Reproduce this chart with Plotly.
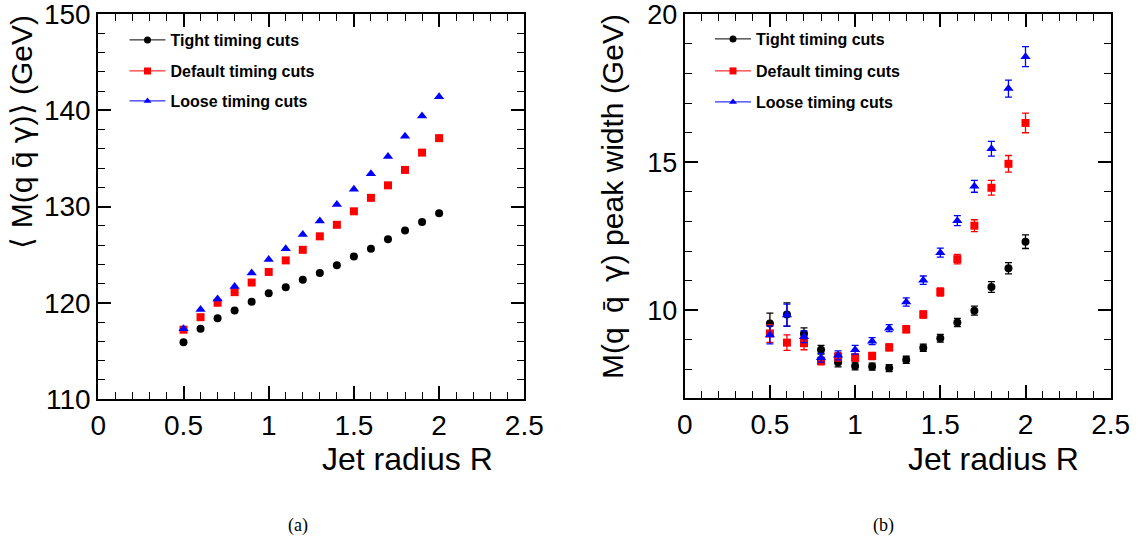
import plotly.graph_objects as go

# ---------------- data ----------------
jet_radius = [0.5, 0.6, 0.7, 0.8, 0.9, 1.0, 1.1, 1.2, 1.3, 1.4, 1.5, 1.6, 1.7, 1.8, 1.9, 2.0]

series_names = ["Tight timing cuts", "Default timing cuts", "Loose timing cuts"]

mean_tight = [115.9, 117.3, 118.4, 119.2, 120.1, 121.0, 121.6, 122.4, 123.1, 123.9, 124.8, 125.6, 126.6, 127.5, 128.4, 129.3]
mean_default = [117.2, 118.5, 120.0, 121.1, 122.1, 123.2, 124.4, 125.5, 126.9, 128.1, 129.5, 130.9, 132.2, 133.8, 135.6, 137.1]
mean_loose = [117.3, 119.3, 120.4, 121.7, 123.1, 124.5, 125.6, 127.1, 128.5, 130.2, 131.8, 133.4, 135.2, 137.3, 139.4, 141.4]

width_tight = [9.56, 9.86, 9.21, 8.67, 8.24, 8.12, 8.10, 8.05, 8.33, 8.74, 9.06, 9.59, 9.99, 10.79, 11.42, 12.32]
width_tight_err = [0.35, 0.39, 0.20, 0.15, 0.15, 0.13, 0.12, 0.12, 0.12, 0.12, 0.13, 0.14, 0.15, 0.18, 0.19, 0.23]
width_default = [9.22, 8.91, 8.89, 8.29, 8.43, 8.41, 8.46, 8.75, 9.36, 9.86, 10.62, 11.73, 12.86, 14.14, 14.95, 16.33]
width_default_err = [0.30, 0.26, 0.22, 0.13, 0.14, 0.12, 0.12, 0.12, 0.12, 0.12, 0.14, 0.16, 0.20, 0.25, 0.28, 0.33]
width_loose = [9.17, 9.84, 9.11, 8.40, 8.48, 8.67, 8.96, 9.40, 10.28, 11.02, 11.95, 13.03, 14.19, 15.46, 17.49, 18.57]
width_loose_err = [0.30, 0.37, 0.20, 0.15, 0.15, 0.15, 0.12, 0.12, 0.14, 0.14, 0.15, 0.17, 0.20, 0.25, 0.29, 0.34]

x_ticks = [0, 0.5, 1, 1.5, 2, 2.5]
x_tick_text = ["0", "0.5", "1", "1.5", "2", "2.5"]
left_y_ticks = [110, 120, 130, 140, 150]
right_y_ticks = [10, 15, 20]

# ---------------- style ----------------
colors = ["#000000", "#ff0000", "#0000ff"]
symbols = ["circle", "square", "triangle-up"]
msizes = [8, 8, 9]
FONT = "Liberation Sans, Arial, Helvetica, sans-serif"
GAMMA = "<span style='font-family:DejaVu Sans'>\u03b3</span>"

W, H = 1138, 541
fig = go.Figure()

mean_series = [mean_tight, mean_default, mean_loose]
width_series = [width_tight, width_default, width_loose]
width_errs = [width_tight_err, width_default_err, width_loose_err]

# left panel data
for i in range(3):
    fig.add_trace(go.Scatter(
        x=jet_radius, y=mean_series[i], mode="markers", xaxis="x", yaxis="y",
        marker=dict(symbol=symbols[i], size=msizes[i], color=colors[i]),
        showlegend=False, cliponaxis=False))

# right panel data
for i in range(3):
    fig.add_trace(go.Scatter(
        x=jet_radius, y=width_series[i], mode="markers", xaxis="x2", yaxis="y2",
        marker=dict(symbol=symbols[i], size=msizes[i], color=colors[i]),
        error_y=dict(type="data", array=width_errs[i], visible=True,
                     color=colors[i], thickness=1.3, width=3.5),
        showlegend=False, cliponaxis=False))

# legend entries (one legend per entry for exact ROOT-like spacing)
left_leg_y = [40, 71, 101]
right_leg_y = [39, 71, 102]
legends = {}
k = 1
for panel, (lx, ys, xa, ya) in enumerate([(124.5, left_leg_y, "x", "y"), (710, right_leg_y, "x2", "y2")]):
    for i in range(3):
        name = "legend" if k == 1 else f"legend{k}"
        fig.add_trace(go.Scatter(
            x=[None], y=[None], mode="lines+markers", xaxis=xa, yaxis=ya,
            name="<b>" + series_names[i] + "</b>",
            line=dict(color=colors[i], width=1),
            marker=dict(symbol=symbols[i], size=7, color=colors[i]),
            showlegend=True, legend=name))
        legends[name] = dict(
            x=lx / W, y=1 - ys[i] / H, xanchor="left", yanchor="middle",
            bgcolor="rgba(0,0,0,0)", borderwidth=0, itemwidth=36,
            font=dict(family=FONT, size=16, color="black"))
        k += 1

axis_common = dict(
    showline=True, linewidth=2, linecolor="black", mirror="ticks",
    ticks="inside", ticklen=13, tickwidth=1.5, tickcolor="black",
    showgrid=False, zeroline=False, automargin=False, ticklabeloverflow="allow",
    tickfont=dict(family=FONT, size=28, color="black"),
)

fig.update_layout(
    width=W, height=H,
    margin=dict(l=0, r=0, t=0, b=0, autoexpand=False),
    paper_bgcolor="white", plot_bgcolor="white",
    font=dict(family=FONT, color="black"),
    xaxis=dict(axis_common, domain=[98.3 / W, 524.3 / W], range=[0, 2.5], anchor="y",
               tickvals=x_ticks, ticktext=x_tick_text,
               minor=dict(dtick=0.1, tick0=0, ticklen=7, tickwidth=1.2, tickcolor="black", ticks="inside")),
    yaxis=dict(axis_common, domain=[1 - 399 / H, 1 - 14 / H], range=[110, 150], anchor="x",
               tickvals=left_y_ticks, tickfont=dict(family=FONT, size=28, color="black"),
               minor=dict(dtick=2, tick0=0, ticklen=7, tickwidth=1.2, tickcolor="black", ticks="inside")),
    xaxis2=dict(axis_common, domain=[684.7 / W, 1110.7 / W], range=[0, 2.5], anchor="y2",
                tickvals=x_ticks, ticktext=x_tick_text,
                minor=dict(dtick=0.1, tick0=0, ticklen=7, tickwidth=1.2, tickcolor="black", ticks="inside")),
    yaxis2=dict(axis_common, domain=[1 - 398.3 / H, 1 - 14.3 / H], range=[7.03, 20], anchor="x2",
                tickvals=right_y_ticks, tickfont=dict(family=FONT, size=27, color="black"),
                minor=dict(dtick=1, tick0=0, ticklen=7, tickwidth=1.2, tickcolor="black", ticks="inside")),
    **legends,
)

title_font = dict(family=FONT, size=32, color="black")
ytitle_font = dict(family=FONT, size=30, color="black")
annos = [
    dict(text="Jet radius R", x=495 / W, y=1 - 459 / H, xanchor="right", yanchor="middle",
         font=title_font),
    dict(text="Jet radius R", x=1081 / W, y=1 - 459 / H, xanchor="right", yanchor="middle",
         font=title_font),
    dict(text="\u27e8 M(q q\u0304 " + GAMMA + ")\u27e9 (GeV)", x=21 / W, y=1 - 132.5 / H,
         xanchor="center", yanchor="middle", textangle=-90, font=ytitle_font),
    dict(text="M(q\u2009 q\u0304\u2009 " + GAMMA + ") peak width (GeV)", x=612.5 / W, y=1 - 196.5 / H,
         xanchor="center", yanchor="middle", textangle=-90, font=ytitle_font),
    dict(text="(a)", x=298 / W, y=1 - 525 / H, xanchor="center", yanchor="middle",
         font=dict(family="Liberation Serif, Times New Roman, serif", size=18, color="black")),
    dict(text="(b)", x=884 / W, y=1 - 525 / H, xanchor="center", yanchor="middle",
         font=dict(family="Liberation Serif, Times New Roman, serif", size=18, color="black")),
]
for a in annos:
    a.update(xref="paper", yref="paper", showarrow=False)
fig.update_layout(annotations=annos)

fig.write_html("out.html", config={"displayModeBar": False},
               post_script="document.body.style.margin='0px';")
